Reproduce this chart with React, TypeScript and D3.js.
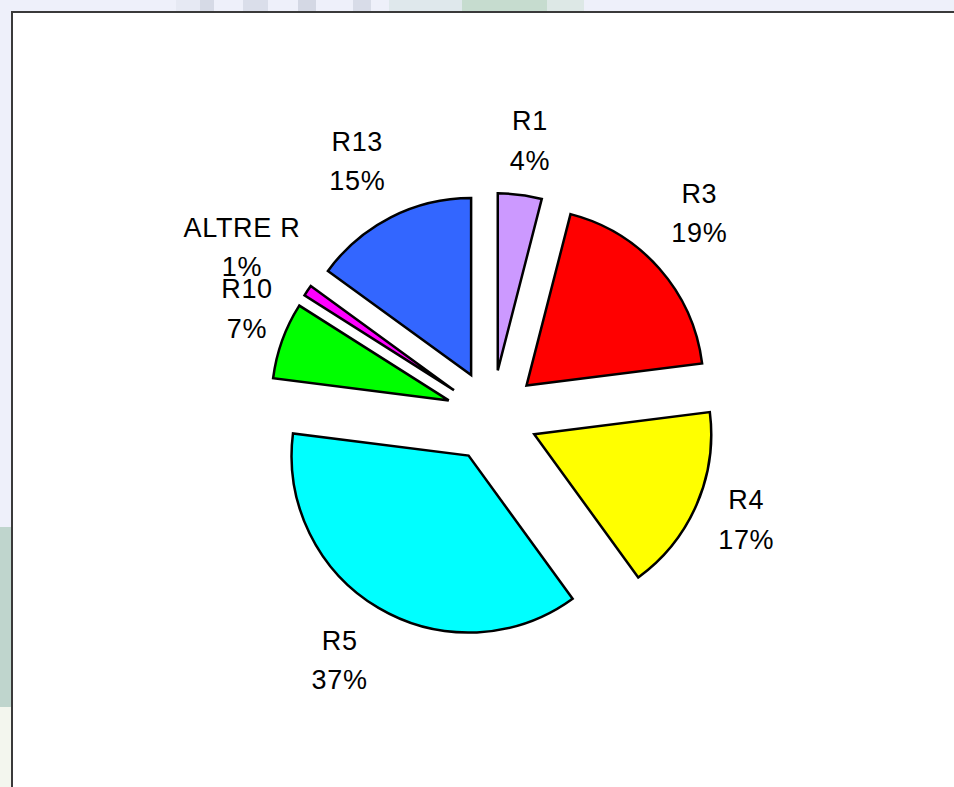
import React, { useEffect, useRef } from "react";
import * as d3 from "d3";

const categories = ["R1", "R3", "R4", "R5", "R10", "ALTRE R", "R13"];
const values = [4, 19, 17, 37, 7, 1, 15];
const colors = ["#cc99ff", "#ff0000", "#ffff00", "#00ffff", "#00ff00", "#ff00ff", "#3366ff"];

// label nudges (layout only), in pixels, same order as categories
const labelNudgeX = [3.5, -6, -4, -8, 16.8, 5.4, -6.3];
const labelNudgeY = [-2, -15, -8, 0, -13.5, 4.5, -3];

const W = 954;
const H = 787;
const CX = 492;
const CY = 416;
const RADIUS = 177;
const EXPLODE = 46;
const LABEL_R = 244;
const FONT_SIZE = 27;
const LINE_GAP = 39.7;
const CAP = 19;

export default function App() {
  const ref = useRef<SVGSVGElement>(null);

  useEffect(() => {
    const svg = d3.select(ref.current);
    svg.selectAll("*").remove();

    // page background (outside the chart frame)
    svg.append("rect").attr("x", 0).attr("y", 0).attr("width", W).attr("height", H).attr("fill", "#eef0fa");
    const topPatches: [number, number, string][] = [
      [176, 24, "#e6e9f3"],
      [200, 14, "#d6dae6"],
      [243, 25, "#dadeea"],
      [298, 18, "#d4d8e4"],
      [353, 18, "#d8dce8"],
      [389, 73, "#dfe8ec"],
      [462, 85, "#c6dccf"],
      [547, 37, "#dde8e6"],
    ];
    topPatches.forEach(([x, w, c]) =>
      svg.append("rect").attr("x", x).attr("y", 0).attr("width", w).attr("height", 12).attr("fill", c)
    );
    svg.append("rect").attr("x", 0).attr("y", 527).attr("width", 12).attr("height", 180).attr("fill", "#bfd5cd");
    svg.append("rect").attr("x", 0).attr("y", 707).attr("width", 12).attr("height", 80).attr("fill", "#f3f6ee");

    // chart frame
    svg
      .append("rect")
      .attr("x", 12)
      .attr("y", 12)
      .attr("width", 1000)
      .attr("height", 1000)
      .attr("fill", "#ffffff")
      .attr("stroke", "#3a3a3a")
      .attr("stroke-width", 2);

    const pie = d3
      .pie<number>()
      .sort(null)
      .value((d) => d)
      .startAngle(0)
      .endAngle(2 * Math.PI);
    const arcs = pie(values);
    const arc = d3.arc<d3.PieArcDatum<number>>().innerRadius(0).outerRadius(RADIUS);
    const total = d3.sum(values);

    const g = svg.append("g").attr("transform", `translate(${CX},${CY})`);

    g.selectAll("path.slice")
      .data(arcs)
      .join("path")
      .attr("class", "slice")
      .attr("d", (d) => arc(d) as string)
      .attr("transform", (d) => {
        const m = (d.startAngle + d.endAngle) / 2;
        return `translate(${Math.sin(m) * EXPLODE},${-Math.cos(m) * EXPLODE})`;
      })
      .attr("fill", (d, i) => colors[i])
      .attr("stroke", "#000")
      .attr("stroke-width", 2.5)
      .attr("stroke-linejoin", "miter");

    arcs.forEach((d, i) => {
      const m = (d.startAngle + d.endAngle) / 2;
      const ux = Math.sin(m);
      const uy = -Math.cos(m);
      const t = g
        .append("text")
        .attr("font-family", "'Liberation Sans', Arial, sans-serif")
        .attr("font-size", FONT_SIZE)
        .attr("letter-spacing", 0.7)
        .attr("fill", "#000")
        .attr("text-anchor", "middle");
      const l1 = t.append("tspan").text(categories[i]);
      const l2 = t.append("tspan").text(`${Math.round((values[i] / total) * 100)}%`);
      const w1 = (l1.node() as SVGTSpanElement).getComputedTextLength();
      const w2 = (l2.node() as SVGTSpanElement).getComputedTextLength();
      const a = Math.max(w1, w2) / 2;
      const b = (CAP + LINE_GAP) / 2;
      const dist = LABEL_R + a * Math.abs(ux) + b * Math.abs(uy);
      const bx = ux * dist + labelNudgeX[i];
      const by = uy * dist + labelNudgeY[i];
      const base1 = by - (CAP + LINE_GAP) / 2 + CAP;
      l1.attr("x", bx).attr("y", base1);
      l2.attr("x", bx).attr("y", base1 + LINE_GAP);
    });
  }, []);

  return (
    <svg
      ref={ref}
      width={W}
      height={H}
      style={{ position: "absolute", left: 0, top: 0, display: "block" }}
    />
  );
}
